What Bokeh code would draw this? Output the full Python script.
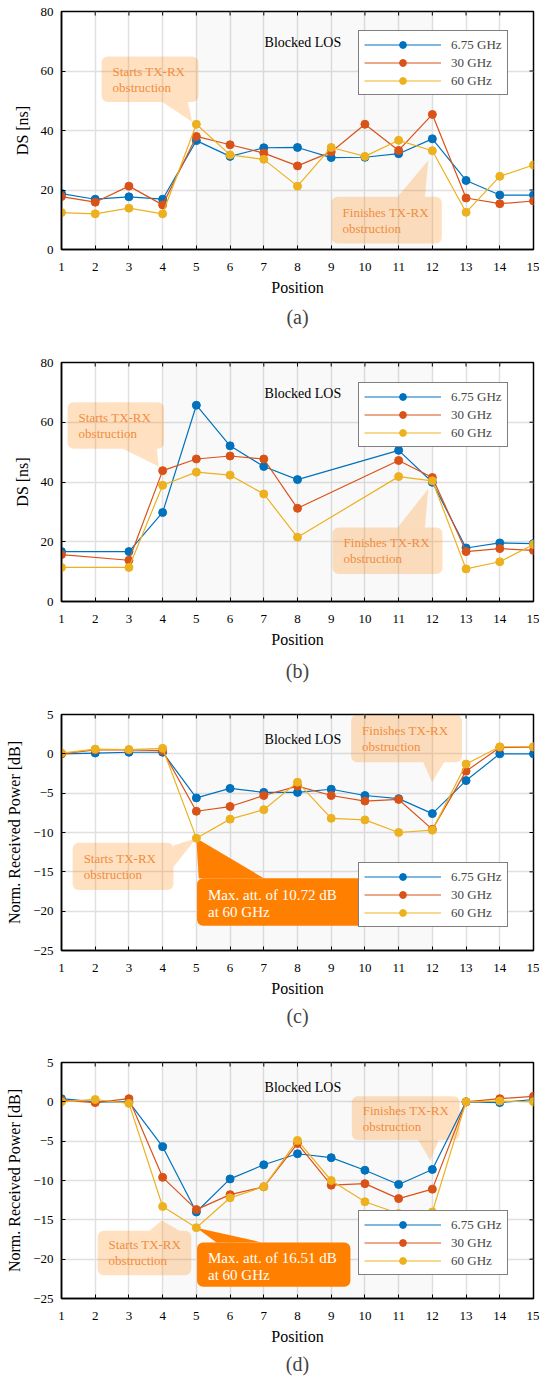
import math
from bokeh.plotting import figure
from bokeh.models import (Range1d, FixedTicker, BoxAnnotation, PolyAnnotation, Label,
                          Legend, LegendItem, Title)
from bokeh.layouts import column
from bokeh.embed import file_html
from bokeh.resources import INLINE

# ---------------- data ----------------
positions = list(range(1, 16))
positions_b = [1, 3, 4, 5, 6, 7, 8, 11, 12, 13, 14, 15]
series_names = ["6.75 GHz", "30 GHz", "60 GHz"]
colors = ["#0072BD", "#D95319", "#EDB120"]

ds_a_675 = [18.8, 16.9, 17.7, 16.9, 36.6, 31.3, 34.2, 34.3, 30.9, 31.0, 32.2, 37.2, 23.2, 18.3, 18.3]
ds_a_30 = [17.8, 15.9, 21.3, 15.0, 38.0, 35.2, 32.4, 28.1, 32.8, 42.1, 33.3, 45.4, 17.3, 15.4, 16.3]
ds_a_60 = [12.4, 12.0, 13.9, 12.0, 42.1, 31.8, 30.3, 21.3, 34.3, 31.3, 36.7, 33.2, 12.5, 24.6, 28.4]

ds_b_675 = [16.7, 16.7, 29.8, 65.7, 52.1, 45.2, 40.8, 50.6, 39.9, 17.9, 19.6, 19.4]
ds_b_30 = [15.7, 13.8, 43.8, 47.7, 48.7, 47.7, 31.2, 47.2, 41.5, 16.7, 17.7, 17.1]
ds_b_60 = [11.4, 11.4, 38.9, 43.3, 42.3, 36.0, 21.5, 41.8, 40.4, 10.9, 13.3, 19.1]

pw_c_675 = [0.0, 0.1, 0.2, 0.2, -5.6, -4.4, -4.9, -4.9, -4.5, -5.3, -5.7, -7.6, -3.4, 0.0, 0.0]
pw_c_30 = [0.0, 0.5, 0.5, 0.4, -7.3, -6.7, -5.3, -4.1, -5.3, -6.0, -5.8, -9.6, -2.2, 0.8, 0.85]
pw_c_60 = [0.1, 0.6, 0.55, 0.7, -10.72, -8.3, -7.1, -3.6, -8.2, -8.4, -10.0, -9.7, -1.3, 0.9, 0.9]

pw_d_675 = [0.4, 0.0, 0.0, -5.7, -14.0, -9.8, -8.0, -6.6, -7.1, -8.7, -10.5, -8.6, 0.0, -0.1, 0.3]
pw_d_30 = [0.2, -0.1, 0.4, -9.6, -13.7, -11.8, -10.8, -5.3, -10.6, -10.4, -12.3, -11.1, 0.0, 0.4, 0.7]
pw_d_60 = [0.0, 0.3, -0.2, -13.3, -16.0, -12.2, -10.8, -4.9, -10.0, -12.7, -14.2, -14.0, 0.0, 0.1, 0.0]

ds_ticks = [0, 20, 40, 60, 80]
pw_ticks = [-25, -20, -15, -10, -5, 0, 5]

FONT = "Liberation Serif"
PALE = "#FF8000"
PALE_ALPHA = 0.24
PALE_TEXT = "#F28C3C"
DARK = "#FF7F00"


def callout(p, box, tri, lines, pale=True, size="13px", offs=(8, -8)):
    l, r, b, t = box
    fill = PALE if pale else DARK
    alpha = PALE_ALPHA if pale else 1.0
    p.add_layout(PolyAnnotation(xs=[q[0] for q in tri], ys=[q[1] for q in tri],
                                fill_color=fill, fill_alpha=alpha, line_color=None,
                                level="underlay"))
    p.add_layout(BoxAnnotation(left=l, right=r, bottom=b, top=t, fill_color=fill,
                               fill_alpha=alpha, line_color=None, border_radius=6,
                               level="underlay"))
    mid = (b + t) / 2
    for txt, off in zip(lines, offs):
        p.add_layout(Label(x=l, y=mid, x_offset=11, y_offset=off, text=txt,
                           text_font=FONT, text_font_size=size,
                           text_color=PALE_TEXT if pale else "white",
                           text_align="left", text_baseline="middle"))


def make_panel(xs, ys_list, yr, yticks, ylabel, caption, left, top, bottom, frame_w,
               frame_h, shade_left, legend_loc, blocked_y, cap_standoff):
    p = figure(width=539, height=top + frame_h + bottom,
               x_range=Range1d(1, 15), y_range=Range1d(*yr),
               output_backend="svg", toolbar_location=None,
               min_border_left=left, min_border_right=539 - left - frame_w,
               min_border_top=top, min_border_bottom=bottom)
    p.outline_line_color = "black"
    p.outline_line_width = 1.5
    p.background_fill_color = "white"
    for ax in (p.xaxis[0], p.yaxis[0]):
        ax.axis_line_color = "black"
        ax.axis_line_width = 1.5
        ax.major_tick_in = 4
        ax.major_tick_out = 0
        ax.major_tick_line_color = "black"
        ax.minor_tick_line_color = None
        ax.major_label_text_font = FONT
        ax.major_label_text_font_size = "13px"
        ax.major_label_text_color = "black"
        ax.axis_label_text_font = FONT
        ax.axis_label_text_font_size = "16px"
        ax.axis_label_text_font_style = "normal"
        ax.axis_label_text_color = "black"
    p.xaxis.ticker = FixedTicker(ticks=positions)
    p.yaxis.ticker = FixedTicker(ticks=yticks)
    p.xaxis.axis_label = "Position"
    p.yaxis.axis_label = ylabel
    p.xaxis.major_label_standoff = 13
    p.xaxis.axis_label_standoff = 5
    p.yaxis.major_label_standoff = 8
    p.yaxis.axis_label_standoff = 7
    p.grid.grid_line_color = "#E0E0E0"
    p.grid.grid_line_width = 1.5

    p.add_layout(BoxAnnotation(left=shade_left, right=12, fill_color="black",
                               fill_alpha=0.025, line_color=None, level="underlay"))

    # mirrored tick marks on the top and right edges (half of each dash is clipped)
    p.scatter(positions, [yr[1]] * len(positions), marker="dash", angle=math.pi / 2,
              size=8, line_color="black", line_width=1)
    p.scatter([15] * len(yticks), yticks, marker="dash", size=8,
              line_color="black", line_width=1)

    items = []
    for name, col, ys in zip(series_names, colors, ys_list):
        ln = p.line(xs, ys, line_color=col, line_width=1.2)
        sc = p.scatter(xs, ys, size=8, fill_color=col, line_color=col)
        items.append(LegendItem(label=name, renderers=[ln, sc]))
    legend = Legend(items=items, location=legend_loc, border_line_color="black",
                    border_line_width=1, background_fill_color="white",
                    background_fill_alpha=1, padding=5, spacing=1, label_height=17,
                    glyph_height=17, glyph_width=77, label_standoff=10, margin=0,
                    label_text_font=FONT, label_text_font_size="13px")
    p.add_layout(legend)

    p.add_layout(Label(x=8.16, y=blocked_y, text="Blocked LOS", text_font=FONT,
                       text_font_size="14px", text_align="center",
                       text_baseline="middle", text_color="black"))
    p.add_layout(Title(text=caption, text_font=FONT, text_font_size="20px",
                       text_font_style="normal", align="center",
                       standoff=cap_standoff), "below")
    return p


# (a)
pa = make_panel(positions, [ds_a_675, ds_a_30, ds_a_60], (0, 80), ds_ticks, "DS [ns]", "(a)",
                left=55, top=11, bottom=91, frame_w=478, frame_h=238, shade_left=5,
                legend_loc=(297, 154), blocked_y=69.7, cap_standoff=11)
callout(pa, (2.19, 5.06, 49.6, 64.9), [(3.99, 49.6), (4.75, 49.6), (4.88, 42.85)],
        ["Starts TX-RX", "obstruction"])
callout(pa, (9.01, 12.28, 2.0, 17.7), [(10.97, 17.7), (11.78, 17.7), (11.88, 30.0)],
        ["Finishes TX-RX", "obstruction"])

# (b)
pb = make_panel(positions_b, [ds_b_675, ds_b_30, ds_b_60], (0, 80), ds_ticks, "DS [ns]", "(b)",
                left=55, top=22, bottom=99, frame_w=478, frame_h=239, shade_left=4,
                legend_loc=(297, 154), blocked_y=69.6, cap_standoff=14)
callout(pb, (1.18, 4.04, 51.1, 66.7), [(2.82, 51.1), (3.83, 51.1), (3.88, 45.2)],
        ["Starts TX-RX", "obstruction"])
callout(pb, (9.04, 12.30, 9.2, 24.8), [(10.97, 24.8), (11.78, 24.8), (11.88, 37.7)],
        ["Finishes TX-RX", "obstruction"])

# (c)
pc = make_panel(positions, [pw_c_675, pw_c_30, pw_c_60], (-25, 5), pw_ticks,
                "Norm. Received Power [dB]", "(c)",
                left=61, top=14, bottom=90, frame_w=472, frame_h=236, shade_left=5,
                legend_loc=(297, 23), blocked_y=1.78, cap_standoff=7)
callout(pc, (1.33, 4.32, -17.3, -11.3), [(4.32, -11.65), (4.32, -14.4), (5.0, -10.72)],
        ["Starts TX-RX", "obstruction"])
callout(pc, (5.02, 9.98, -21.86, -15.81), [(5.07, -15.81), (7.0, -15.81), (5.0, -10.72)],
        ["Max. att. of  10.72 dB", "at 60 GHz"], pale=False, size="15px", offs=(7, -10))
callout(pc, (9.59, 12.88, -1.06, 4.96), [(11.73, -1.06), (12.35, -1.06), (11.99, -3.6)],
        ["Finishes TX-RX", "obstruction"])

# (d)
pd_ = make_panel(positions, [pw_d_675, pw_d_30, pw_d_60], (-25, 5), pw_ticks,
                 "Norm. Received Power [dB]", "(d)",
                 left=61, top=22, bottom=81, frame_w=472, frame_h=236, shade_left=4,
                 legend_loc=(297, 23), blocked_y=1.78, cap_standoff=6)
callout(pd_, (2.07, 4.85, -22.03, -16.39), [(3.6, -16.39), (4.5, -16.39), (3.98, -15.1)],
        ["Starts TX-RX", "obstruction"])
callout(pd_, (5.02, 9.57, -23.51, -17.87), [(5.6, -17.87), (6.94, -17.87), (5.0, -16.0)],
        ["Max. att. of  16.51 dB", "at 60 GHz"], pale=False, size="15px", offs=(7, -10))
callout(pd_, (9.61, 12.81, -4.84, 0.71), [(11.58, -4.84), (12.19, -4.84), (11.94, -7.47)],
        ["Finishes TX-RX", "obstruction"])

layout = column(pa, pb, pc, pd_, spacing=0)
open("out.html", "w").write(file_html(layout, INLINE))
